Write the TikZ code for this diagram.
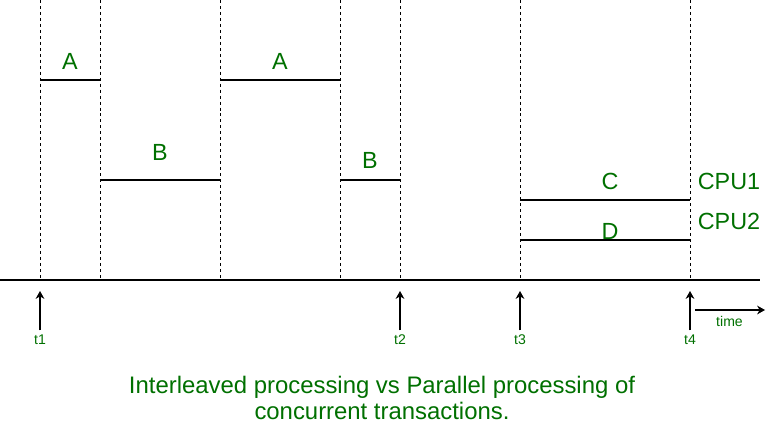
\documentclass[tikz,border=0pt]{standalone}
\usepackage{fontspec}
\setmainfont{Liberation Sans}
\usetikzlibrary{arrows.meta}

\definecolor{labelgreen}{RGB}{0,112,0}

\tikzset{
  slice/.style={line width=0.6pt},
  guide/.style={line width=0.5pt, dash pattern=on 1.7pt off 1.7pt},
  joblabel/.style={text=labelgreen, font=\fontsize{13.3}{15}\selectfont, inner sep=0pt},
  ticklabel/.style={text=labelgreen, font=\fontsize{8}{10}\selectfont, inner sep=0pt},
  uparrow/.style={line width=0.6pt, -{Stealth[length=4.5pt,width=5pt]}}
}

\begin{document}
\begin{tikzpicture}[x=0.02cm, y=-0.02cm]
  \useasboundingbox (0,0) rectangle (774,429);

  % Dashed guides at every switch of the processor
  \foreach \i/\x in {1/40, 2/100, 3/220, 4/340, 5/400, 6/520, 7/690} {
    \coordinate (top\i) at (\x,0);
    \coordinate (base\i) at (\x,280);
    \draw[guide] (top\i) -- (base\i);
  }

  % The time axis
  \coordinate (axisL) at (0,280);
  \coordinate (axisR) at (760,280);
  \draw[slice] (axisL) -- (axisR);

  % Interleaved slices of A and B
  \draw[slice] (40,80) -- (100,80);
  \draw[slice] (100,180) -- (220,180);
  \draw[slice] (220,80) -- (340,80);
  \draw[slice] (340,180) -- (400,180);

  % Parallel run of C and D
  \draw[slice] (520,200) -- (690,200);
  \draw[slice] (520,240) -- (690,240);

  % Names of the transactions
  \node[joblabel] (jobA1) at (70,61) {A};
  \node[joblabel] (jobB1) at (160,152) {B};
  \node[joblabel] (jobA2) at (280,61) {A};
  \node[joblabel] (jobB2) at (370,160) {B};
  \node[joblabel] (jobC) at (610,181) {C};
  \node[joblabel] (jobD) at (610,231) {D};
  \node[joblabel] (cpu1) at (729,181) {CPU1};
  \node[joblabel] (cpu2) at (729,221) {CPU2};

  % Instants marked under the axis
  \foreach \name/\x in {t1/40, t2/400, t3/520, t4/690} {
    \node[ticklabel] (\name) at (\x,340) {\name};
    \coordinate (hit\name) at (\x,291);
    \draw[uparrow] ([yshift=2.5pt]\name.north) -- (hit\name);
  }

  % Direction of time
  \coordinate (timeL) at (695,310);
  \coordinate (timeR) at (765,310);
  \draw[uparrow] (timeL) -- (timeR);
  \node[ticklabel] (time) at (729.5,321) {time};

  % Caption
  \node[joblabel, align=center, font=\fontsize{13.6}{14.8}\selectfont] (caption) at (382,398)
    {Interleaved processing vs Parallel processing of\\concurrent transactions.};

\end{tikzpicture}
\end{document}
